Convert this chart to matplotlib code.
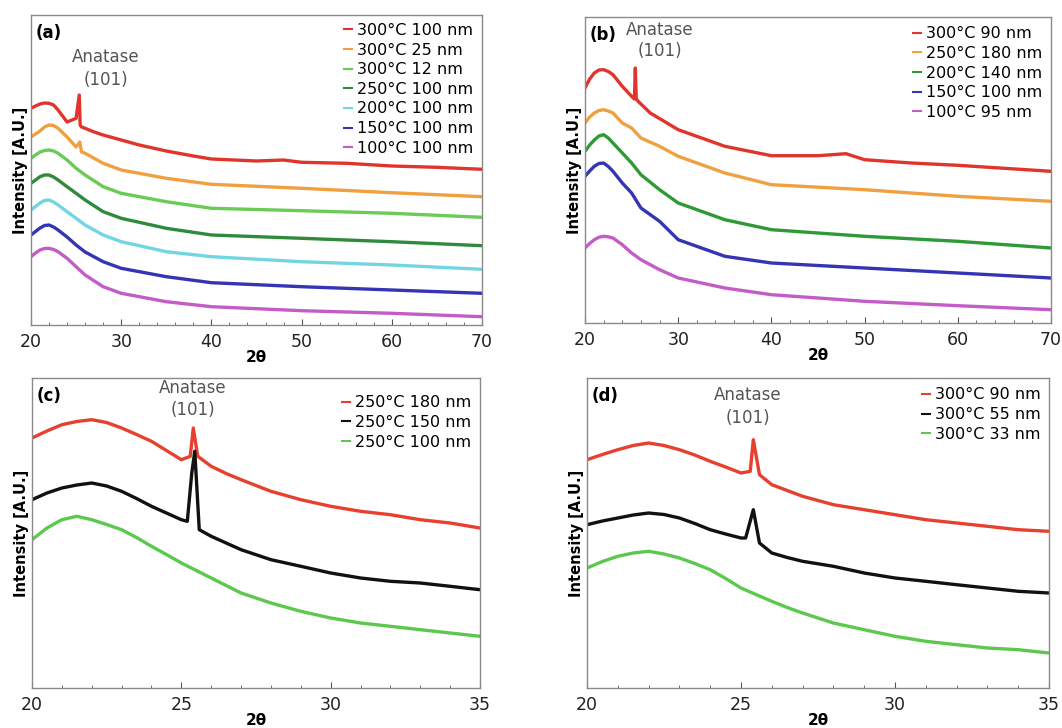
import matplotlib
matplotlib.use("Agg")
import matplotlib.pyplot as plt
from matplotlib.ticker import MultipleLocator

plt.rcParams['font.family'] = ['DejaVu Sans']

# ---- panel (a): wide scan, 100 nm films at several temperatures ----
a_labels = ["300°C 100 nm", "300°C 25 nm", "300°C 12 nm", "250°C 100 nm",
            "200°C 100 nm", "150°C 100 nm", "100°C 100 nm"]
a_colors = ["#e0342c", "#f0a040", "#6acb55", "#2f8a3c", "#72d6e2", "#3434b4", "#c45cc8"]
a_x = [
    [20, 20.5, 21, 21.5, 22, 22.5, 23, 24, 25, 25.35, 25.45, 25.6, 26, 27, 28, 30, 32, 35, 38, 40, 45, 48, 50, 55, 60, 65, 70],
    [20, 20.5, 21, 21.5, 22, 22.5, 23, 24, 25, 25.4, 25.6, 26, 28, 30, 35, 40, 50, 60, 70],
    [20, 20.5, 21, 21.5, 22, 22.5, 23, 24, 25, 26, 28, 30, 35, 40, 50, 60, 70],
    [20, 20.5, 21, 21.5, 22, 22.5, 23, 24, 25, 26, 28, 30, 35, 40, 50, 60, 70],
    [20, 20.5, 21, 21.5, 22, 22.5, 23, 24, 25, 26, 28, 30, 35, 40, 50, 60, 70],
    [20, 20.5, 21, 21.5, 22, 22.5, 23, 24, 25, 26, 28, 30, 35, 40, 50, 60, 70],
    [20, 20.5, 21, 21.5, 22, 22.5, 23, 24, 25, 26, 28, 30, 35, 40, 50, 60, 70],
]
a_y = [
    [216.7, 219, 221, 222, 221.7, 220, 215, 203, 206.7, 230, 200, 198, 196.7, 193, 190, 185, 180, 174, 169, 166, 164, 165, 162.7, 161.7, 159, 157.7, 155.7],
    [188, 191, 194, 198, 200, 199.5, 196.7, 188, 178, 183, 173, 171.7, 161.7, 155, 146.7, 140.7, 136.7, 132.3, 128.3],
    [166.7, 170, 173, 174.5, 175, 174, 171.7, 165, 156.7, 150, 138.3, 131.7, 123.3, 116.7, 114.3, 111.7, 107.7],
    [141.7, 145, 148.3, 150, 150, 148, 145, 138.3, 131.7, 125, 113.3, 106.7, 96.7, 90, 86.7, 83.3, 79.3],
    [115, 118.5, 122, 124.5, 125, 123, 120, 113.3, 106.7, 100, 90, 83.3, 73.3, 68.3, 63.3, 60, 55.7],
    [90, 93.5, 97, 99.5, 100, 98, 95, 88, 80, 73, 63.3, 56.7, 48.3, 42.3, 38.3, 35, 31.7],
    [68.3, 72, 75, 76.5, 76.7, 75.5, 73.3, 66.7, 58.3, 50, 38.3, 31.7, 23.3, 18.3, 14.3, 11.7, 8.3],
]

# ---- panel (b): wide scan, films of different thickness/temperature ----
b_labels = ["300°C 90 nm", "250°C 180 nm", "200°C 140 nm", "150°C 100 nm", "100°C 95 nm"]
b_colors = ["#e0342c", "#f0a040", "#2e9a36", "#3434b4", "#c45cc8"]
b_x = [
    [20, 20.5, 21, 21.5, 22, 22.5, 23, 24, 25, 25.3, 25.4, 25.5, 25.7, 27, 30, 35, 40, 45, 48, 50, 55, 60, 70],
    [20, 20.5, 21, 21.5, 22, 22.5, 23, 24, 25, 26, 28, 30, 35, 40, 50, 60, 70],
    [20, 20.5, 21, 21.5, 22, 22.5, 23, 24, 25, 26, 28, 30, 35, 40, 50, 60, 70],
    [20, 20.5, 21, 21.5, 22, 22.5, 23, 24, 25, 26, 28, 30, 35, 40, 50, 60, 70],
    [20, 20.5, 21, 21.5, 22, 22.5, 23, 24, 25, 26, 28, 30, 35, 40, 50, 60, 70],
]
b_y = [
    [235, 244, 250, 253, 253.3, 251.5, 248.3, 236.7, 226.7, 224, 255, 224, 221.7, 210, 193.3, 176.7, 167.3, 167.3, 169.3, 163.3, 160, 157.7, 151.7],
    [200, 206, 210, 212.5, 213.3, 212, 210, 200, 195, 185, 176.7, 166.7, 150, 138.3, 133.3, 126.7, 121.7],
    [171.7, 178, 183, 187, 188.3, 185, 180, 170, 160, 148.3, 133.3, 120, 103.3, 93.3, 86.7, 81.7, 75],
    [146.7, 152, 156.7, 159.5, 160, 156.5, 151.7, 140, 130, 115, 101.7, 83.3, 66.7, 60, 55, 50, 45],
    [75, 79.5, 83.3, 85.8, 86.7, 86.2, 85, 78.3, 70, 63.3, 53.3, 45, 35, 28.3, 21.7, 17.3, 13.3],
]

# ---- panel (c): 250 °C films, zoom on the anatase (101) region ----
c_labels = ["250°C 180 nm", "250°C 150 nm", "250°C 100 nm"]
c_colors = ["#e8402e", "#111111", "#5cc84e"]
c_x = [
    [20, 20.5, 21, 21.5, 22, 22.5, 23, 23.5, 24, 24.5, 25, 25.3, 25.4, 25.55, 26, 26.5, 27, 28, 29, 30, 31, 32, 33, 34, 35],
    [20, 20.5, 21, 21.5, 22, 22.5, 23, 23.5, 24, 24.5, 25, 25.2, 25.35, 25.45, 25.6, 26, 26.5, 27, 28, 29, 30, 31, 32, 33, 34, 35],
    [20, 20.5, 21, 21.5, 22, 22.5, 23, 23.5, 24, 24.5, 25, 25.5, 26, 26.5, 27, 28, 29, 30, 31, 32, 33, 34, 35],
]
c_y = [
    [250, 257, 263.3, 266.5, 268.3, 265.5, 260, 253.5, 246.7, 237.5, 228.3, 231.7, 260, 231.7, 221.7, 214.5, 208.3, 196.7, 188.3, 181.7, 176.7, 173.3, 168.3, 165, 160],
    [188.3, 195, 200, 203, 205, 202, 196.7, 189.5, 181.7, 175, 168.3, 166.7, 215, 236.7, 158.3, 151.7, 145, 138.3, 128.3, 121.7, 115, 110, 106.7, 105, 101.7, 98.3],
    [148.3, 160, 168.3, 171.7, 168.3, 163.5, 158.3, 150.5, 141.7, 133.5, 125, 117.5, 110, 102.5, 95, 85, 76.7, 70, 65, 61.7, 58.3, 55, 51.7],
]

# ---- panel (d): 300 °C films, zoom on the anatase (101) region ----
d_labels = ["300°C 90 nm", "300°C 55 nm", "300°C 33 nm"]
d_colors = ["#e8402e", "#111111", "#5cc84e"]
d_x = [
    [20, 20.5, 21, 21.5, 22, 22.5, 23, 23.5, 24, 24.5, 25, 25.3, 25.4, 25.6, 26, 26.5, 27, 28, 29, 30, 31, 32, 33, 34, 35],
    [20, 20.5, 21, 21.5, 22, 22.5, 23, 23.5, 24, 24.5, 25, 25.15, 25.4, 25.6, 26, 26.5, 27, 28, 29, 30, 31, 32, 33, 34, 35],
    [20, 20.5, 21, 21.5, 22, 22.5, 23, 23.5, 24, 24.5, 25, 25.5, 26, 26.5, 27, 28, 29, 30, 31, 32, 33, 34, 35],
]
d_y = [
    [228.3, 233.5, 238.3, 242.5, 245, 242.5, 238.3, 233, 226.7, 221, 215, 216.7, 248.3, 213.3, 203.3, 197.5, 191.7, 183.3, 178.3, 173.3, 168.3, 165, 161.7, 158.3, 156.7],
    [163.3, 167, 170, 173, 175, 173.5, 170, 164.5, 158.3, 154, 150, 150, 178.3, 145, 135, 130.5, 126.7, 121.7, 115, 110, 106.7, 103.3, 100, 96.7, 95],
    [120, 126.5, 131.7, 135, 136.7, 134, 130, 124.5, 118.3, 109.5, 100, 93.3, 86.7, 80.5, 75, 65, 58.3, 51.7, 46.7, 43.3, 40, 38.3, 35],
]

W, H = 1062, 728
fig = plt.figure(figsize=(W / 100, H / 100), dpi=100)
fig.patch.set_facecolor("white")

# pixel boxes (left, top, right, bottom) of each axes in the reference
boxes = {
    "a": (31, 15, 482, 325),
    "b": (585, 17, 1051, 323),
    "c": (32, 378, 480, 688),
    "d": (587, 378, 1049, 688),
}
# xs, ys, labels, colours, xlim, major, minor, (anno x, y1, y2), legend top (axes frac)
panels = {
    "a": (a_x, a_y, a_labels, a_colors, (20, 70), 10, 2, (28.3, 267.7, 245), 0.995),
    "b": (b_x, b_y, b_labels, b_colors, (20, 70), 10, 2, (28.0, 293, 271.7), 0.99),
    "c": (c_x, c_y, c_labels, c_colors, (20, 35), 5, 1, (25.38, 300, 278), 0.965),
    "d": (d_x, d_y, d_labels, d_colors, (20, 35), 5, 1, (25.23, 293.3, 270), 0.99),
}

GREY = "#8a8a8a"
for key, (xs, ys, labels, colors, xlim, major, minor, anno, legtop) in panels.items():
    l, t, r, b = boxes[key]
    ax = fig.add_axes([l / W, 1 - b / H, (r - l) / W, (b - t) / H])
    for x, y, lab, col in zip(xs, ys, labels, colors):
        ax.plot(x, y, color=col, lw=2.4, label=lab, solid_joinstyle="round")
    ax.set_xlim(*xlim)
    ax.set_ylim(0, b - t)
    ax.xaxis.set_major_locator(MultipleLocator(major))
    ax.xaxis.set_minor_locator(MultipleLocator(minor))
    ax.tick_params(axis="x", which="both", direction="in", colors="#555555",
                   labelcolor="#222222", labelsize=12.5, pad=6)
    ax.tick_params(axis="x", which="major", length=4)
    ax.tick_params(axis="x", which="minor", length=2.5)
    ax.set_yticks([])
    for sp in ax.spines.values():
        sp.set_color(GREY)
        sp.set_linewidth(1.0)
    ax.set_xlabel("2θ", fontsize=11, fontweight="bold", labelpad=-1)
    ax.set_ylabel("Intensity [A.U.]", fontsize=10.5, fontweight="bold", labelpad=2)
    ax.text(0.01, 0.97, f"({key})", transform=ax.transAxes, fontsize=12,
            fontweight="bold", va="top", ha="left")
    ax_, y1, y2 = anno
    ax.text(ax_, y1, "Anatase", fontsize=12, color="#555555", ha="center", va="center")
    ax.text(ax_, y2, "(101)", fontsize=12, color="#555555", ha="center", va="center")
    leg = ax.legend(loc="upper right", bbox_to_anchor=(0.995, legtop), frameon=False,
                    fontsize=11.5, handlelength=0.5, handletextpad=0.3,
                    labelspacing=0.29, borderaxespad=0.0)
    for line in leg.get_lines():
        line.set_linewidth(1.5)

fig.savefig("out.png", dpi=100)
